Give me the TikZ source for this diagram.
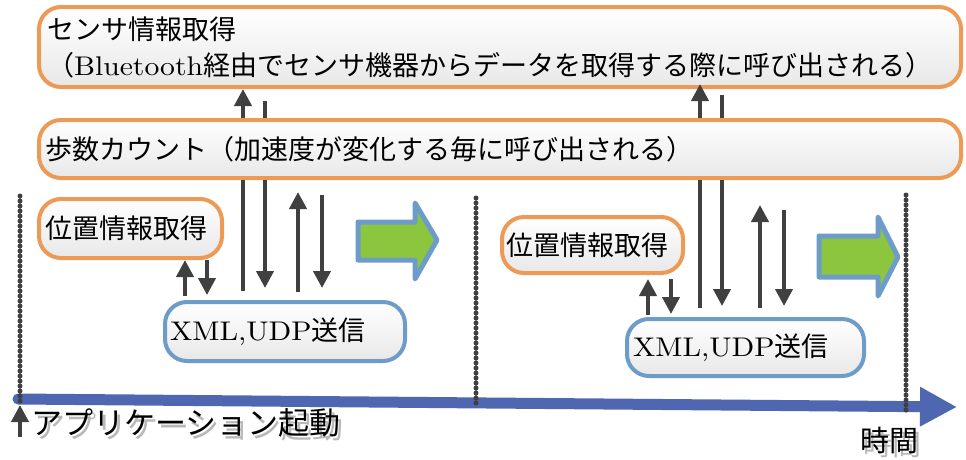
\documentclass[tikz,border=0pt]{standalone}
\usepackage{fontspec}
\newfontfamily\jp{Noto Sans CJK JP}
\newfontfamily\lw{lmroman10-regular.otf}[FakeStretch=1.1]
\usetikzlibrary{arrows.meta,calc}
\pgfdeclarelayer{background}
\pgfsetlayers{background,main}
\definecolor{obord}{HTML}{EC9A55}
\definecolor{bbord}{HTML}{6E9CC9}
\definecolor{shd}{HTML}{C9C9C9}
\definecolor{darr}{HTML}{404040}
\definecolor{axisc}{HTML}{4F66B0}
\definecolor{grn}{HTML}{8CC63F}
\newcommand{\jtx}[1]{{\jp #1}}
\newcommand{\ltx}[1]{{\lw #1}}
\tikzset{
  box/.style={draw, line width=4pt, rounded corners=22pt, top color=white, bottom color=black!9,
    inner ysep=0pt, align=left, font=\fontsize{27}{36}\selectfont},
  obox/.style={box, draw=obord},
  bbox/.style={box, draw=bbord},
  arr/.style={draw=darr, line width=4pt, -{Triangle[length=17pt,width=17pt]}},
  ln/.style={draw=darr, line width=4pt},
  dots/.style={draw=darr, line width=5pt, line cap=round, dash pattern=on 0pt off 5pt},
  garrow/.style={draw=bbord, fill=grn, line width=5pt, line join=round},
  lbl/.style={inner sep=0pt, anchor=west},
}
\begin{document}
\begin{tikzpicture}[x=1pt,y=-1pt]
\useasboundingbox (0,0) rectangle (966,459);
\fill[white] (0,0) rectangle (966,459);

% boxes
\node[obox, minimum height=80pt, text width=906pt, inner xsep=8pt] (sensor) at (500,47)
  {\jtx{センサ情報取得}\\\jtx{（}\ltx{Bluetooth}\jtx{経由でセンサ機器からデータを取得する際に呼び出される）}};
\node[obox, minimum height=58pt, text width=910pt, inner xsep=6pt] (hosu) at (500,149)
  {\jtx{歩数カウント（加速度が変化する毎に呼び出される）}};
\node[obox, minimum height=59pt, text width=171pt, inner xsep=6pt] (ichiL) at (130.5,228.5)
  {\jtx{位置情報取得}};
\node[bbox, minimum height=59pt, text width=230pt, inner xsep=5pt] (xmlL) at (285,331.5)
  {\ltx{XML,UDP}\jtx{送信}};
\node[obox, minimum height=56pt, text width=173pt, inner xsep=4pt] (ichiR) at (592.5,245)
  {\jtx{位置情報取得}};
\node[bbox, minimum height=57pt, text width=225pt, inner xsep=6pt] (xmlR) at (745.5,347.5)
  {\ltx{XML,UDP}\jtx{送信}};

% shadows
\begin{pgfonlayer}{background}
  \fill[shd] ($(sensor.north west)+(1,1)$) rectangle ($(sensor.south east)+(5,11)$);
  \fill[shd] ($(hosu.north west)+(1,1)$) rectangle ($(hosu.south east)+(5,11)$);
  \fill[shd] ($(ichiL.north west)+(1,1)$) rectangle ($(ichiL.south east)+(10,9)$);
  \fill[shd] ($(xmlL.north west)+(1,1)$) rectangle ($(xmlL.south east)+(7,9)$);
  \fill[shd] ($(ichiR.north west)+(1,1)$) rectangle ($(ichiR.south east)+(10,10)$);
  \fill[shd] ($(xmlR.north west)+(1,1)$) rectangle ($(xmlR.south east)+(9,9)$);
  \fill[shd] (360,204) rectangle (446,288);
  \fill[shd] (821,219) rectangle (905,303);
\end{pgfonlayer}

% green arrows
\draw[garrow] (358,222) -- (415,222) -- (415,203) -- (437,240) -- (415,279) -- (415,260) -- (358,260) -- cycle;
\draw[garrow] (819,236) -- (878,236) -- (878,217) -- (898,257) -- (878,296) -- (878,277) -- (819,277) -- cycle;

% connectors between sensor and hosu
\draw[arr] (hosu.north -| 243,0) -- (sensor.south -| 243,0);
\draw[ln, shorten >=12pt] (hosu.north -| 265,0) -- (sensor.south -| 265,0);
\draw[arr, shorten >=-5pt] (hosu.north -| 700,0) -- (sensor.south -| 700,0);
\draw[ln, shorten >=6pt] (hosu.north -| 722,0) -- (sensor.south -| 722,0);

% left group
\draw[ln, shorten >=9pt] (hosu.south -| 243,0) -- (xmlL.north -| 243,0);
\draw[arr, shorten >=12pt] (hosu.south -| 265,0) -- (xmlL.north -| 265,0);
\draw[arr, shorten <=8pt, shorten >=12pt] (xmlL.north -| 298,0) -- (hosu.south -| 298,0);
\draw[arr, shorten <=15pt, shorten >=12pt] (hosu.south -| 322,0) -- (xmlL.north -| 322,0);
\draw[arr, shorten <=4pt] (xmlL.north -| 185,0) -- (ichiL.south -| 185,0);
\draw[arr, shorten >=5pt] (ichiL.south -| 207,0) -- (xmlL.north -| 207,0);

% right group
\draw[ln, shorten >=9pt] (hosu.south -| 700,0) -- (xmlR.north -| 700,0);
\draw[arr, shorten >=11pt] (hosu.south -| 722,0) -- (xmlR.north -| 722,0);
\draw[arr, shorten <=9pt, shorten >=25pt] (xmlR.north -| 760,0) -- (hosu.south -| 760,0);
\draw[arr, shorten <=30pt, shorten >=11pt] (hosu.south -| 784,0) -- (xmlR.north -| 784,0);
\draw[arr, shorten <=2pt, shorten >=4pt] (xmlR.north -| 648,0) -- (ichiR.south -| 648,0);
\draw[arr, shorten <=4pt, shorten >=3pt] (ichiR.south -| 671,0) -- (xmlR.north -| 671,0);

% time axis
\coordinate (t0) at (18,399);
\coordinate (t1) at (957,407);
\draw[draw=axisc, line width=11pt, line cap=round, -{Triangle[length=37pt,width=37pt]}] (t0) -- (t1);

% dotted separators
\coordinate (da) at (20,196);  \coordinate (db) at (20,402);
\coordinate (dc) at (476,198); \coordinate (dd) at (476,403);
\coordinate (de) at (906,195); \coordinate (df) at (906,410);
\draw[dots] (da) -- (db);
\draw[dots] (dc) -- (dd);
\draw[dots] (de) -- (df);

% start arrow and labels
\coordinate (s0) at (20,437);
\coordinate (s1) at (20,405);
\draw[arr] (s0) -- (s1);
\node[lbl, text=black!28, font=\fontsize{31}{36}\selectfont] at (34,427) {\jtx{アプリケーション起動}};
\node[lbl, font=\fontsize{31}{36}\selectfont] (start) at (31,423) {\jtx{アプリケーション起動}};
\node[lbl, text=black!28, font=\fontsize{29}{34}\selectfont] at (863,444) {\jtx{時間}};
\node[lbl, font=\fontsize{29}{34}\selectfont] (time) at (860,440) {\jtx{時間}};
\end{tikzpicture}
\end{document}
